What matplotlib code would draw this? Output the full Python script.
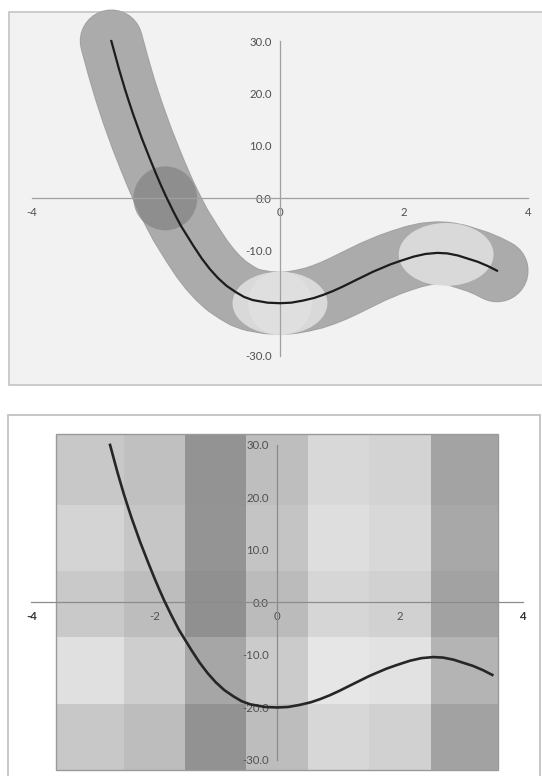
import numpy as np
import matplotlib
matplotlib.use('Agg')
import matplotlib.pyplot as plt
from matplotlib.patches import Rectangle, Ellipse
import matplotlib.patheffects as pe

# curve (same series in both panels)
curve_x = [-2.72, -2.66, -2.60, -2.55, -2.50, -2.44, -2.37, -2.30, -2.23, -2.16,
           -2.10, -2.00, -1.92, -1.84, -1.72, -1.60, -1.50, -1.40, -1.26, -1.13,
           -1.00, -0.86, -0.71, -0.58, -0.44, -0.20, 0.00, 0.18, 0.37, 0.55,
           0.70, 0.85, 1.00, 1.24, 1.50, 1.78, 1.95, 2.16, 2.35, 2.54,
           2.70, 2.87, 3.03, 3.19, 3.35, 3.50]
curve_y = [30.0, 27.4, 24.8, 22.8, 20.8, 18.6, 16.1, 13.8, 11.5, 9.4,
           7.6, 4.7, 2.5, 0.4, -2.5, -5.2, -7.1, -9.0, -11.5, -13.5,
           -15.2, -16.7, -17.9, -18.8, -19.4, -19.9, -20.0, -19.9, -19.5, -19.0,
           -18.4, -17.7, -16.9, -15.5, -14.0, -12.6, -11.9, -11.1, -10.6, -10.4,
           -10.5, -10.9, -11.5, -12.1, -12.9, -13.8]

# highlighted points in the top panel
dark_x = [-1.85]
dark_y = [0.0]
light_x = [0.0, 2.68]
light_y = [-20.0, -10.7]

# bottom panel background blocks (gray levels 0-255), rows top -> bottom
block_x_edges = [-3.6, -2.5, -1.5, -0.5, 0.5, 1.5, 2.5, 3.6]
block_y_edges = [32.0, 18.5, 6.0, -6.5, -19.3, -32.0]
block_gray = [
    [200, 192, 147, 190, 216, 211, 163],
    [212, 198, 148, 196, 222, 216, 168],
    [201, 189, 144, 187, 214, 209, 162],
    [224, 206, 166, 203, 230, 226, 180],
    [200, 189, 146, 189, 215, 209, 162],
]

x_ticks = [-4, -2, 0, 2, 4]
x_tick_labels = ['-4', '-2', '0', '2', '4']
y_ticks = [-30, -20, -10, 0, 10, 20, 30]
y_tick_labels = ['-30.0', '-20.0', '-10.0', '0.0', '10.0', '20.0', '30.0']

W, H = 542, 776
fig = plt.figure(figsize=(W / 100, H / 100), dpi=100)
fig.patch.set_facecolor('white')

font = ['Lato', 'DejaVu Sans']
label_color = '#505050'
axis_color = '#a0a0a0'


def px_rect(x0, y0, x1, y1):
    # pixel box (from top-left) -> figure fraction [left, bottom, width, height]
    return [x0 / W, 1 - y1 / H, (x1 - x0) / W, (y1 - y0) / H]


def setup_axes(ax, xlim, ylim):
    ax.set_xlim(*xlim)
    ax.set_ylim(*ylim)
    ax.set_facecolor('none')
    for s in ['top', 'right']:
        ax.spines[s].set_visible(False)
    ax.spines['bottom'].set_position(('data', 0))
    ax.spines['left'].set_position(('data', 0))
    ax.spines['bottom'].set_bounds(x_ticks[0], x_ticks[-1])
    ax.spines['left'].set_bounds(y_ticks[0], y_ticks[-1])
    for s in ['bottom', 'left']:
        ax.spines[s].set_color(axis_color)
        ax.spines[s].set_linewidth(0.9)
        ax.spines[s].set_zorder(5)
    ax.set_xticks(x_ticks)
    ax.set_xticklabels(x_tick_labels)
    ax.set_yticks(y_ticks)
    ax.set_yticklabels(y_tick_labels)
    ax.tick_params(axis='both', length=0, labelsize=8.2, labelcolor=label_color)
    ax.tick_params(axis='x', pad=6)
    ax.tick_params(axis='y', pad=6)
    for lbl in ax.get_xticklabels() + ax.get_yticklabels():
        lbl.set_family(font)


# ---------------- top panel ----------------
fig.patches.append(Rectangle((8.6 / W, 1 - 385 / H), (W + 5 - 8.6) / W, (385 - 11.7) / H,
                             transform=fig.transFigure, facecolor='#f2f2f2',
                             edgecolor='#c4c4c4', linewidth=1.2, zorder=-5))

ax1 = fig.add_axes(px_rect(8.6, 11.7, 542, 385))
setup_axes(ax1, (-4.377, 4.226), (-35.6, 35.6))

ax1.plot(curve_x, curve_y, color='#ababab', lw=44, solid_capstyle='round',
         solid_joinstyle='round', zorder=2, clip_on=False,
         path_effects=[pe.Stroke(linewidth=45.5, foreground='#a2a2a2'), pe.Normal()])
ax1.scatter(dark_x, dark_y, s=2120, color='#848484', alpha=0.72, edgecolors='none', zorder=3)
for lx, ly in zip(light_x, light_y):
    ax1.add_patch(Ellipse((lx, ly), 1.53, 12.0, facecolor='#e2e2e2', alpha=0.85,
                          edgecolor='none', zorder=3))
ax1.add_patch(Ellipse((light_x[0], light_y[0]), 1.03, 12.2, facecolor='#e6e6e6', alpha=0.5,
                      edgecolor='none', zorder=3))
ax1.plot(curve_x, curve_y, color='#1c1c1c', lw=1.6, zorder=6)

# ---------------- bottom panel ----------------
fig.patches.append(Rectangle((8.3 / W, -0.01), (540 - 8.3) / W, (776 - 415) / H + 0.01,
                             transform=fig.transFigure, facecolor='white',
                             edgecolor='#bdbdbd', linewidth=1.2, zorder=-5))

ax2 = fig.add_axes(px_rect(8.3, 415, 542, 776))
setup_axes(ax2, (-4.376, 4.309), (-33.05, 35.7))
ax2.spines['bottom'].set_color('#8c8c8c')
ax2.spines['left'].set_color('#8c8c8c')
# the outer labels sit on white and look heavier in the original
xl = ax2.get_xticklabels()
for lbl in (xl[0], xl[-1]):
    lbl.set_fontweight('bold')
    lbl.set_color('#333333')

ax2.pcolormesh(block_x_edges, block_y_edges, np.array(block_gray), cmap='gray',
               vmin=0, vmax=255, shading='flat', zorder=1)
ax2.add_patch(Rectangle((block_x_edges[0], block_y_edges[-1]),
                        block_x_edges[-1] - block_x_edges[0],
                        block_y_edges[0] - block_y_edges[-1],
                        facecolor='none', edgecolor='#9a9a9a', lw=1.0, zorder=1.5))
ax2.plot(curve_x, curve_y, color='#262626', lw=1.9, zorder=6)

fig.savefig('out.png', dpi=100)
